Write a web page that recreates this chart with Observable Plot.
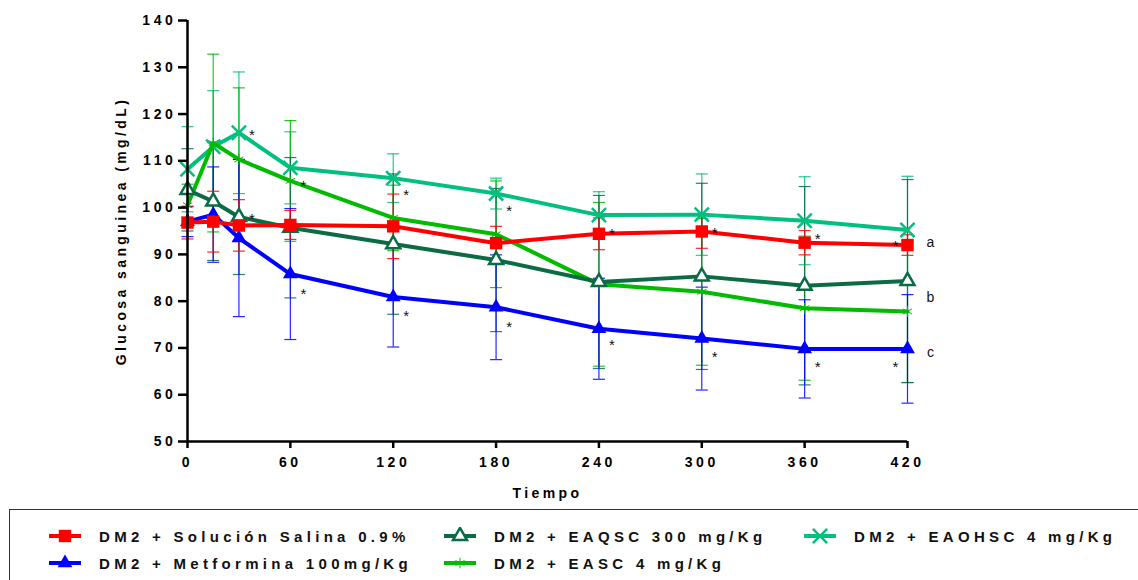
<!DOCTYPE html>
<html><head><meta charset="utf-8">
<script src="https://cdn.jsdelivr.net/npm/d3@7"></script>
<script src="https://cdn.jsdelivr.net/npm/@observablehq/plot@0.6"></script>
<style>
body{margin:0;background:#fff;font-family:"Liberation Sans",Arial,sans-serif;}
#wrap{position:relative;width:1138px;height:580px;overflow:hidden;background:#fff}
#chart svg{display:block}
g[aria-label="y-axis tick label"] text, g[aria-label="x-axis tick label"] text{letter-spacing:3.6px}
g[aria-label="y-axis label"] text, g[aria-label="x-axis label"] text{letter-spacing:3.4px}
#legend{position:absolute;left:9px;top:509px;width:1140px;height:90px;border:1px solid #333;box-sizing:border-box}
.item{position:absolute;display:flex;align-items:center;font-weight:bold;font-size:15px;letter-spacing:4.3px;color:#111;white-space:nowrap}
.item svg{margin-right:17px}
</style></head>
<body><div id="wrap"><div id="chart"></div><div id="legend"></div></div>
<script>
const times = [0, 15, 30, 60, 120, 180, 240, 300, 360, 420];
const seriesNames = ["DM2 + Solución Salina 0.9%", "DM2 + Metformina 100mg/Kg", "DM2 + EAQSC 300 mg/Kg", "DM2 + EASC 4 mg/Kg", "DM2 + EAOHSC 4 mg/Kg"];
const salina = [96.8, 97.0, 96.2, 96.3, 96.0, 92.4, 94.4, 94.9, 92.5, 92.0];
const salinaSD = [3.5, 6.5, 5.5, 3.1, 6.9, 3.6, 3.4, 3.6, 2.6, 2.2];
const metformina = [97.0, 98.5, 93.5, 85.8, 80.9, 78.7, 74.1, 72.0, 69.8, 69.8];
const metforminaSD = [3.2, 10.2, 16.8, 14.0, 10.7, 11.2, 10.8, 11.0, 10.5, 11.6];
const eaqsc = [103.8, 101.3, 98.0, 95.7, 92.2, 88.8, 84.1, 85.3, 83.3, 84.3];
const eaqscSD = [8.8, 12.6, 12.3, 15.0, 15.0, 15.3, 18.5, 19.9, 21.2, 21.7];
const easc = [100.5, 113.8, 110.3, 105.7, 97.8, 94.3, 83.6, 82.0, 78.5, 77.8];
const eascSD = [4.5, 19.0, 15.3, 12.9, 7.0, 11.4, 17.5, 15.7, 15.4, 15.2];
const eaohsc = [108.2, 113.0, 116.0, 108.5, 106.3, 103.0, 98.4, 98.5, 97.2, 95.2];
const eaohscSD = [9.1, 12.0, 13.0, 7.7, 5.2, 3.3, 5.0, 8.7, 9.4, 11.5];
const yTicks = [50, 60, 70, 80, 90, 100, 110, 120, 130, 140];
const xTicks = [0, 60, 120, 180, 240, 300, 360, 420];
const starsRight = [[30,116.1],[30,98.1],[60,105.2],[60,82.1],[120,103.4],[120,77.4],[180,99.8],[180,75.0],[240,94.9],[240,71.2],[300,95.1],[300,68.6],[360,93.8],[360,66.5]];
const starsLeft = [[420,92.5],[420,66.5]];
const groupLetters = ["a", "b", "c"];
const groupLetterValues = [92.5, 80.8, 69.0];

const colors = ["#ff0000", "#0000ff", "#0a6b45", "#00bb00", "#00c080"];
const means = [salina, metformina, eaqsc, easc, eaohsc];
const sds = [salinaSD, metforminaSD, eaqscSD, eascSD, eaohscSD];

const rows = [];
seriesNames.forEach((s, i) => times.forEach((t, j) => rows.push({s, i, t, v: means[i][j], sd: sds[i][j]})));
const drawOrder = [4, 3, 2, 1, 0];
const capSym = {draw(ctx, size){ const r = Math.sqrt(size / Math.PI); ctx.moveTo(-r, 0); ctx.lineTo(r, 0); }};

const marks = [];
for (const i of drawOrder) {
  const d = rows.filter(r => r.i === i);
  marks.push(Plot.ruleX(d, {x: "t", y1: r => r.v - r.sd, y2: r => r.v + r.sd, stroke: colors[i], strokeWidth: 1.2, strokeOpacity: 0.85}));
  marks.push(Plot.dot(d, {x: "t", y: r => r.v + r.sd, symbol: capSym, r: 6, stroke: colors[i], strokeWidth: 1.2, strokeOpacity: 0.85, fill: "none"}));
  marks.push(Plot.dot(d, {x: "t", y: r => r.v - r.sd, symbol: capSym, r: 6, stroke: colors[i], strokeWidth: 1.2, strokeOpacity: 0.85, fill: "none"}));
}
const symOpts = [
  {symbol: "square", r: 7, fill: colors[0], stroke: "none"},
  {symbol: "triangle", r: 5.5, fill: colors[1], stroke: "none"},
  {symbol: "triangle", r: 5.2, fill: "white", stroke: colors[2], strokeWidth: 2.5},
  {symbol: "asterisk", r: 5, fill: "none", stroke: colors[3], strokeWidth: 1},
  {symbol: "times", r: 6.5, fill: "none", stroke: colors[4], strokeWidth: 2.5}
];
for (const i of drawOrder) {
  const d = rows.filter(r => r.i === i);
  marks.push(Plot.line(d, {x: "t", y: "v", stroke: colors[i], strokeWidth: 4}));
  marks.push(Plot.dot(d, {x: "t", y: "v", ...symOpts[i]}));
}
marks.push(Plot.text(starsRight, {x: d => d[0], y: d => d[1], text: () => "*", dx: 13, dy: 3, fontSize: 15, fill: "#111"}));
marks.push(Plot.text(starsLeft, {x: d => d[0], y: d => d[1], text: () => "*", dx: -12, dy: 3, fontSize: 15, fill: "#111"}));
marks.push(Plot.text(groupLetters, {x: () => 420, y: (d, k) => groupLetterValues[k], text: d => d, dx: 23, fontSize: 14, fill: "#111"}));
marks.push(Plot.axisY({ticks: yTicks, tickSize: 9, tickPadding: 2, strokeWidth: 2.5, fontSize: 14, fontWeight: "bold", label: "Glucosa sanguinea (mg/dL)", labelAnchor: "center", labelOffset: 71, labelArrow: "none"}));
marks.push(Plot.axisX({ticks: xTicks, tickSize: 7, tickPadding: 9, strokeWidth: 2.5, fontSize: 14, fontWeight: "bold", label: "Tiempo", labelAnchor: "center", labelOffset: 56, labelArrow: "none"}));
marks.push(Plot.ruleX([0], {stroke: "#000", strokeWidth: 2.5}));
marks.push(Plot.ruleY([50], {stroke: "#000", strokeWidth: 2.5}));

const chart = Plot.plot({
  width: 1138, height: 505,
  marginLeft: 187, marginRight: 231, marginTop: 20, marginBottom: 64,
  x: {domain: [0, 420]},
  y: {domain: [50, 140]},
  style: {fontFamily: "'Liberation Sans', Arial, sans-serif", color: "#000", background: "#fff", fontSize: "15px"},
  marks
});
document.getElementById("chart").appendChild(chart);

// legend
const legend = document.getElementById("legend");
const legendPos = [[38, 26], [38, 53], [433, 26], [433, 53], [793, 26]];
const legendOrder = [0, 1, 2, 3, 4];
function markerSvg(i) {
  const sw = d3.create("svg").attr("width", 34).attr("height", 18);
  sw.append("line").attr("x1", 1).attr("x2", 33).attr("y1", 9).attr("y2", 9).attr("stroke", colors[i]).attr("stroke-width", 4);
  const o = symOpts[i];
  const typ = {square: d3.symbolSquare, triangle: d3.symbolTriangle, asterisk: d3.symbolAsterisk, times: d3.symbolTimes}[o.symbol];
  sw.append("path").attr("transform", "translate(17,9)")
    .attr("d", d3.symbol(typ, Math.PI * o.r * o.r)())
    .attr("fill", o.fill).attr("stroke", o.stroke).attr("stroke-width", o.strokeWidth || 0);
  return sw.node();
}
legendOrder.forEach((i, k) => {
  const div = document.createElement("div");
  div.className = "item";
  div.style.left = legendPos[k][0] + "px";
  div.style.top = (legendPos[k][1] - 9) + "px";
  div.appendChild(markerSvg(i));
  const span = document.createElement("span");
  span.textContent = seriesNames[i];
  div.appendChild(span);
  legend.appendChild(div);
});
</script></body></html>
